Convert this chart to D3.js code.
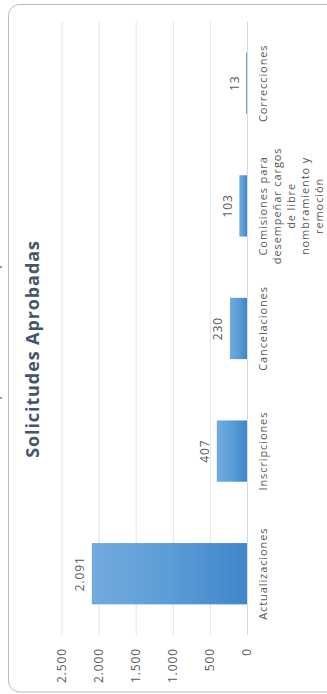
<!DOCTYPE html>
<html>
<head>
<meta charset="utf-8">
<script src="https://cdn.jsdelivr.net/npm/d3@7"></script>
<style>
  html, body { margin: 0; padding: 0; background: #fff; }
  svg { display: block; }
</style>
</head>
<body>
<svg id="chart" width="327" height="694"></svg>
<script>
// Data
const categories = [
  "Actualizaciones",
  "Inscripciones",
  "Cancelaciones",
  "Comisiones para desempeñar cargos de libre nombramiento y remoción",
  "Correcciones"
];
const values = [2091, 407, 230, 103, 13];
const valueTicks = [0, 500, 1000, 1500, 2000, 2500];
const chartTitle = "Solicitudes Aprobadas";

const svg = d3.select("#chart");
const LONG = 694;                       // the chart is laid out landscape, then turned a quarter
const plot = { left: 59, right: 672, top: 61.5, bottom: 247 };
const labelColor = "#595959";

const fmt = d3.formatLocale({ decimal: ",", thousands: ".", grouping: [3], currency: ["$", ""] }).format(",d");

// small page marks at the left edge
[266.5, 397.5].forEach(yy => {
  svg.append("rect").attr("x", 0).attr("y", yy).attr("width", 2).attr("height", 1).attr("fill", "#3a3a3a");
});

// chart frame
svg.append("rect")
  .attr("x", 8.5).attr("y", 4.5)
  .attr("width", 340).attr("height", 687.5)
  .attr("rx", 11)
  .attr("fill", "#fff")
  .attr("stroke", "#bcbcbc")
  .attr("stroke-width", 1);

const defs = svg.append("defs");
const grad = defs.append("linearGradient").attr("id", "barGrad")
  .attr("x1", 0).attr("y1", 0).attr("x2", 0).attr("y2", 1);
grad.append("stop").attr("offset", "0%").attr("stop-color", "#74aadd");
grad.append("stop").attr("offset", "50%").attr("stop-color", "#5a9dd7");
grad.append("stop").attr("offset", "100%").attr("stop-color", "#4086c8");

const g = svg.append("g").attr("transform", `translate(0,${LONG}) rotate(-90)`);

const x = d3.scaleBand().domain(categories).range([plot.left, plot.right])
  .paddingInner(0.5).paddingOuter(0.25);
const y = d3.scaleLinear().domain([0, 2500]).range([plot.bottom, plot.top]);

// value axis with gridlines
g.append("g")
  .attr("transform", `translate(${plot.left},0)`)
  .call(d3.axisLeft(y).tickValues(valueTicks).tickFormat(fmt)
    .tickSize(-(plot.right - plot.left)).tickPadding(13))
  .call(a => {
    a.select(".domain").remove();
    a.selectAll(".tick line").attr("stroke", "#e2e2ea").attr("stroke-width", 1);
    a.selectAll(".tick text")
      .attr("fill", labelColor)
      .style("font-family", "'Open Sans', sans-serif")
      .style("font-size", "12px")
      .style("letter-spacing", "0.9px");
  });

// bars
g.selectAll("rect.bar")
  .data(values)
  .join("rect")
  .attr("class", "bar")
  .attr("x", (d, i) => x(categories[i]))
  .attr("y", d => y(d))
  .attr("width", x.bandwidth())
  .attr("height", d => y(0) - y(d))
  .attr("fill", "url(#barGrad)");

// category axis
const catAxis = g.append("g")
  .attr("transform", `translate(0,${plot.bottom})`)
  .call(d3.axisBottom(x).tickSize(0).tickSizeOuter(0).tickPadding(0));
catAxis.select(".domain").attr("stroke", "#d5dae3").attr("stroke-width", 1);

// wrap long category names to the width of one band step
const maxLine = x.step();
catAxis.selectAll(".tick text").each(function (d) {
  const t = d3.select(this)
    .text(null)
    .attr("y", 0).attr("dy", null)
    .attr("fill", labelColor)
    .style("font-family", "'Open Sans', sans-serif")
    .style("font-size", "11px")
    .style("letter-spacing", "0.9px");
  const words = d.split(" ");
  const lines = [];
  let line = [];
  const probe = t.append("tspan");
  words.forEach(w => {
    const trial = line.concat([w]).join(" ");
    probe.text(trial);
    if (line.length && probe.node().getComputedTextLength() > maxLine) {
      lines.push(line.join(" "));
      line = [w];
    } else {
      line.push(w);
    }
  });
  lines.push(line.join(" "));
  probe.remove();
  lines.forEach((ln, i) => {
    t.append("tspan").attr("x", 0).attr("y", 19.7 + i * 14).text(ln);
  });
});

// value labels
g.selectAll("text.value")
  .data(values)
  .join("text")
  .attr("class", "value")
  .attr("x", (d, i) => x(categories[i]) + x.bandwidth() / 2)
  .attr("y", d => y(d) - 7.5)
  .attr("text-anchor", "middle")
  .attr("fill", labelColor)
  .style("font-family", "'Open Sans', sans-serif")
  .style("font-size", "12px")
  .style("letter-spacing", "0.9px")
  .text(d => fmt(d));

// title
g.append("text")
  .attr("x", 345)
  .attr("y", 38.5)
  .attr("text-anchor", "middle")
  .attr("fill", "#44546a")
  .style("font-family", "'Open Sans', sans-serif")
  .style("font-size", "18px")
  .style("font-weight", "bold")
  .style("letter-spacing", "0.9px")
  .text(chartTitle);
</script>
</body>
</html>
